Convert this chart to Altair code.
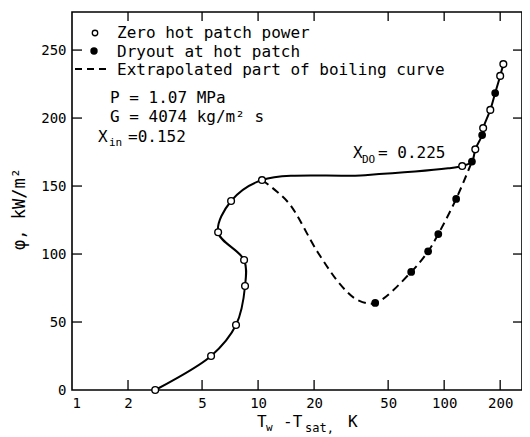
import altair as alt
import pandas as pd

# ---- data ----
# open circles: zero hot patch power
open_x = [2.80, 5.59, 7.61, 8.51, 8.41, 6.10, 7.16, 10.5, 125, 147, 162, 177, 200, 208]
open_y = [0, 25, 47.8, 76.5, 95.6, 116, 139, 154.4, 164.7, 177, 192.6, 206, 231, 239.7]
# filled circles: dryout at hot patch
dry_x = [42.6, 66.5, 82, 93, 116, 141, 160, 188]
dry_y = [64, 86.8, 102, 114.7, 140.5, 168, 187.5, 218.4]
# solid boiling curve (path vertices)
solid_x = [2.80, 5.59, 7.61, 8.51, 8.41, 6.10, 7.16, 10.5, 37.6, 105, 125, 141, 147, 160, 162, 177, 188, 200, 208]
solid_y = [0, 25, 47.8, 76.5, 95.6, 116, 139, 154.4, 158, 163, 164.7, 168, 177, 187.5, 192.6, 206, 218.4, 231, 239.7]
# dashed extrapolated part (path vertices)
dash_x = [10.5, 12.6, 14.9, 21.0, 28.3, 34.5, 42.6, 66.5, 82, 93, 116, 141]
dash_y = [154.4, 146, 136, 101, 76, 66, 64, 86.8, 102, 114.7, 140.5, 168]
# axis ticks
x_ticks = [1, 2, 5, 10, 20, 50, 100, 200]
y_ticks = [0, 50, 100, 150, 200, 250]

W, H = 450, 378
FONT = "DejaVu Sans Mono"
xscale = alt.Scale(type="log", domain=[1, 262], nice=False)
yscale = alt.Scale(domain=[0, 278], nice=False, zero=True)

solid_df = pd.DataFrame({"x": solid_x, "y": solid_y, "i": range(len(solid_x))})
dash_df = pd.DataFrame({"x": dash_x, "y": dash_y, "i": range(len(dash_x))})
open_df = pd.DataFrame({"x": open_x, "y": open_y})
dry_df = pd.DataFrame({"x": dry_x, "y": dry_y})
one = pd.DataFrame({"a": [0]})

xaxis = alt.Axis(values=x_ticks, format="d", ticks=False, domain=False, grid=False,
                 labelFont=FONT, labelFontSize=14, labelPadding=6, labelColor="black",
                 title=None)
yaxis = alt.Axis(values=y_ticks, ticks=False, domain=False, grid=False,
                 labelFont=FONT, labelFontSize=14, labelPadding=6, labelColor="black",
                 title=None)


def X(f):
    return alt.X(f, scale=xscale, axis=xaxis)


def Y(f):
    return alt.Y(f, scale=yscale, axis=yaxis)


solid = alt.Chart(solid_df).mark_line(color="black", strokeWidth=2, interpolate="catmull-rom").encode(
    x=X("x:Q"), y=Y("y:Q"), order=alt.Order("i:Q"))
dashed = alt.Chart(dash_df).mark_line(color="black", strokeWidth=2, strokeDash=[8, 5],
                                      interpolate="catmull-rom").encode(
    x=X("x:Q"), y=Y("y:Q"), order=alt.Order("i:Q"))
opens = alt.Chart(open_df).mark_point(shape="circle", filled=True, fill="white", stroke="black",
                                      strokeWidth=1.4, size=45, opacity=1).encode(
    x=X("x:Q"), y=Y("y:Q"))
drys = alt.Chart(dry_df).mark_point(shape="circle", filled=True, color="black", size=60,
                                    opacity=1).encode(x=X("x:Q"), y=Y("y:Q"))

# inward tick marks
xt = pd.DataFrame({"v": x_ticks[1:]})
yt = pd.DataFrame({"v": y_ticks[1:]})
tick_bottom = alt.Chart(xt).mark_rule(color="black", strokeWidth=1.3).encode(
    x=X("v:Q"), y=alt.value(H), y2=alt.value(H - 10))
tick_top = alt.Chart(xt).mark_rule(color="black", strokeWidth=1.3).encode(
    x=X("v:Q"), y=alt.value(0), y2=alt.value(9))
tick_left = alt.Chart(yt).mark_rule(color="black", strokeWidth=1.3).encode(
    y=Y("v:Q"), x=alt.value(0), x2=alt.value(10))
tick_right = alt.Chart(yt).mark_rule(color="black", strokeWidth=1.3).encode(
    y=Y("v:Q"), x=alt.value(W), x2=alt.value(W - 9))


def txt(s, x, y, size=16, align="left", angle=0):
    return alt.Chart(one).mark_text(text=s, align=align, baseline="middle", font=FONT,
                                    fontSize=size, color="black", angle=angle).encode(
        x=alt.value(x), y=alt.value(y))


# legend
leg_open = alt.Chart(one).mark_point(shape="circle", filled=True, fill="white", stroke="black",
                                     strokeWidth=1.3, size=30, opacity=1).encode(
    x=alt.value(23), y=alt.value(21))
leg_dry = alt.Chart(one).mark_point(shape="circle", filled=True, color="black", size=55,
                                    opacity=1).encode(x=alt.value(22), y=alt.value(39))
leg_dash = alt.Chart(one).mark_rule(color="black", strokeWidth=2, strokeDash=[7, 5]).encode(
    x=alt.value(3), x2=alt.value(36), y=alt.value(57))

texts = [
    txt("Zero hot patch power", 45, 21),
    txt("Dryout at hot patch", 45, 40),
    txt("Extrapolated part of boiling curve", 45, 58),
    txt("P = 1.07 MPa", 38, 86),
    txt("G = 4074 kg/m² s", 38, 105),
    txt("X", 26, 125),
    txt("in", 37, 131, size=11),
    txt("=0.152", 56, 125),
    txt("X", 281, 141),
    txt("DO", 290, 148, size=11),
    txt("= 0.225", 306, 141),
    # axis titles
    txt("φ,    kW/m²", -52, 197, size=17, align="center", angle=270),
    txt("T", 185, 410),
    txt("w", 194, 416, size=11),
    txt("-T", 211, 410),
    txt("sat,", 233, 416, size=12),
    txt("K", 276, 410),
]

chart = alt.layer(
    tick_bottom, tick_top, tick_left, tick_right,
    dashed, solid, opens, drys,
    leg_open, leg_dry, leg_dash, *texts,
).properties(
    width=W, height=H,
    background="white",
    autosize=alt.AutoSizeParams(type="none"),
    padding={"left": 64, "top": 4, "right": 0, "bottom": 44},
).configure_view(stroke="black", strokeWidth=1.6)

chart.save("out.html", embed_options={"renderer": "svg", "actions": False})
